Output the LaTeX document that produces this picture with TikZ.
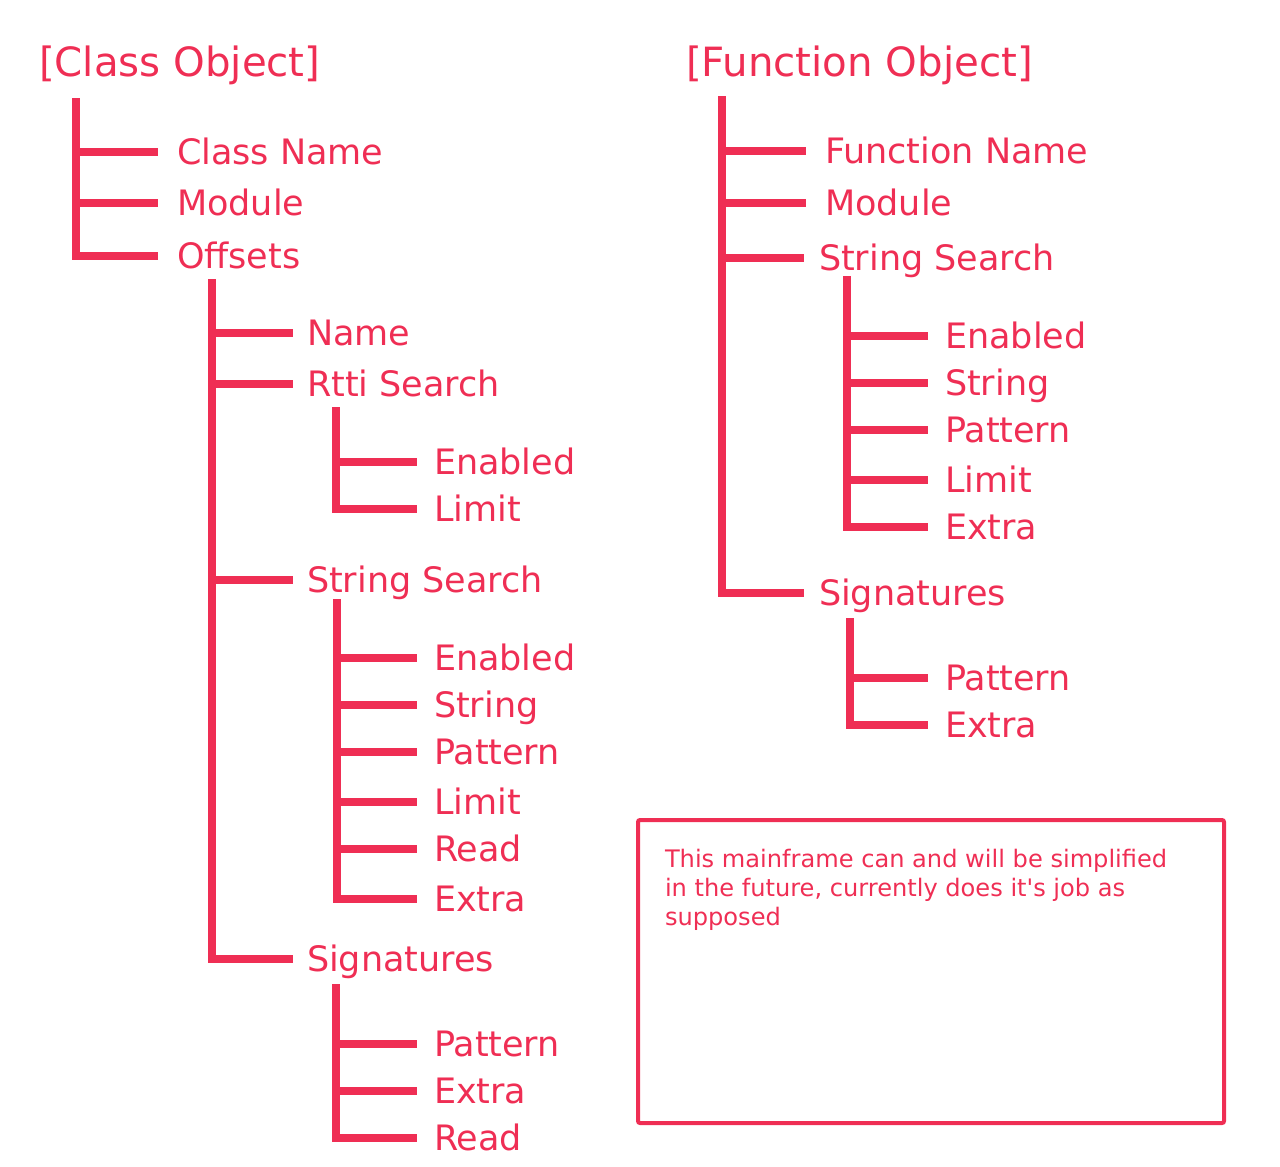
\documentclass[tikz,border=0pt]{standalone}
\usepackage{fontspec}
\setmainfont{DejaVu Sans}[Ligatures=TeXOff]
\definecolor{treered}{RGB}{239,46,84}
\begin{document}
\begin{tikzpicture}[x=1pt,y=-1pt,
  branch/.style={draw=treered, line width=8pt, line cap=butt, line join=miter},
  lbl/.style={anchor=west, inner sep=0pt, outer sep=0pt, text=treered,
    font=\fontsize{35}{41}\selectfont, text height=25.5pt, text depth=0pt},
  ttl/.style={anchor=base west, inner sep=0pt, outer sep=0pt, text=treered,
    font=\fontsize{40.3}{48}\selectfont},
  notebox/.style={draw=treered, line width=4pt, rounded corners=2pt,
    minimum width=586pt, minimum height=303pt, inner sep=0pt},
  notetext/.style={anchor=north west, inner sep=0pt, outer sep=0pt, text=treered,
    align=left, font=\fontsize{24.1}{29}\selectfont}
  ]
\useasboundingbox (0,0) rectangle (1280,1167);

% ---------------- Class Object tree ----------------
\node[ttl] (ctitle) at (39,76) {[Class Object]};
\coordinate (sA) at (76,98);
\node[lbl] (cname) at (177,152) {Class Name};
\node[lbl] (cmod)  at (177,203) {Module};
\node[lbl] (coff)  at (177,256) {Offsets};
\draw[branch] (sA) |- ([xshift=-19pt]cname.west);
\draw[branch] (sA) |- ([xshift=-19pt]cmod.west);
\draw[branch] (sA) |- ([xshift=-19pt]coff.west);

\coordinate (sB) at (212,279);
\node[lbl] (oname) at (307,333) {Name};
\node[lbl] (ortti) at (307,384) {Rtti Search};
\node[lbl] (ostr)  at (307,580) {String Search};
\node[lbl] (osig)  at (307,959) {Signatures};
\draw[branch] (sB) |- ([xshift=-14pt]oname.west);
\draw[branch] (sB) |- ([xshift=-14pt]ortti.west);
\draw[branch] (sB) |- ([xshift=-14pt]ostr.west);
\draw[branch] (sB) |- ([xshift=-14pt]osig.west);

\coordinate (sC) at (336,407);
\node[lbl] (ren) at (434,462) {Enabled};
\node[lbl] (rli) at (434,509) {Limit};
\draw[branch] (sC) |- ([xshift=-17pt]ren.west);
\draw[branch] (sC) |- ([xshift=-17pt]rli.west);

\coordinate (sD) at (337,599);
\node[lbl] (sen) at (434,658) {Enabled};
\node[lbl] (sst) at (434,705) {String};
\node[lbl] (spa) at (434,752) {Pattern};
\node[lbl] (sli) at (434,802) {Limit};
\node[lbl] (sre) at (434,849) {Read};
\node[lbl] (sex) at (434,899) {Extra};
\foreach \n in {sen,sst,spa,sli,sre,sex}
  \draw[branch] (sD) |- ([xshift=-17pt]\n.west);

\coordinate (sE) at (336,984);
\node[lbl] (gpa) at (434,1044) {Pattern};
\node[lbl] (gex) at (434,1091) {Extra};
\node[lbl] (gre) at (434,1138) {Read};
\foreach \n in {gpa,gex,gre}
  \draw[branch] (sE) |- ([xshift=-17pt]\n.west);

% ---------------- Function Object tree ----------------
\node[ttl] (ftitle) at (686,76) {[Function Object]};
\coordinate (sF) at (722,96);
\node[lbl] (fname) at (825,151) {Function Name};
\node[lbl] (fmod)  at (825,203) {Module};
\node[lbl] (fstr)  at (819,258) {String Search};
\node[lbl] (fsig)  at (819,593) {Signatures};
\draw[branch] (sF) |- ([xshift=-19pt]fname.west);
\draw[branch] (sF) |- ([xshift=-19pt]fmod.west);
\draw[branch] (sF) |- ([xshift=-15pt]fstr.west);
\draw[branch] (sF) |- ([xshift=-15pt]fsig.west);

\coordinate (sG) at (847,276);
\node[lbl] (fen) at (945,336) {Enabled};
\node[lbl] (fst) at (945,383) {String};
\node[lbl] (fpa) at (945,430) {Pattern};
\node[lbl] (fli) at (945,480) {Limit};
\node[lbl] (fex) at (945,527) {Extra};
\foreach \n in {fen,fst,fpa,fli,fex}
  \draw[branch] (sG) |- ([xshift=-17pt]\n.west);

\coordinate (sH) at (850,618);
\node[lbl] (hpa) at (945,678) {Pattern};
\node[lbl] (hex) at (945,725) {Extra};
\foreach \n in {hpa,hex}
  \draw[branch] (sH) |- ([xshift=-17pt]\n.west);

% ---------------- Note ----------------
\node[notebox] (note) at (931,971.5) {};
\node[notetext] (ntext) at ([xshift=29pt,yshift=-31pt]note.north west)
  {This mainframe can and will be simplified\\
   in the future, currently does it's job as\\
   supposed};
\end{tikzpicture}
\end{document}
